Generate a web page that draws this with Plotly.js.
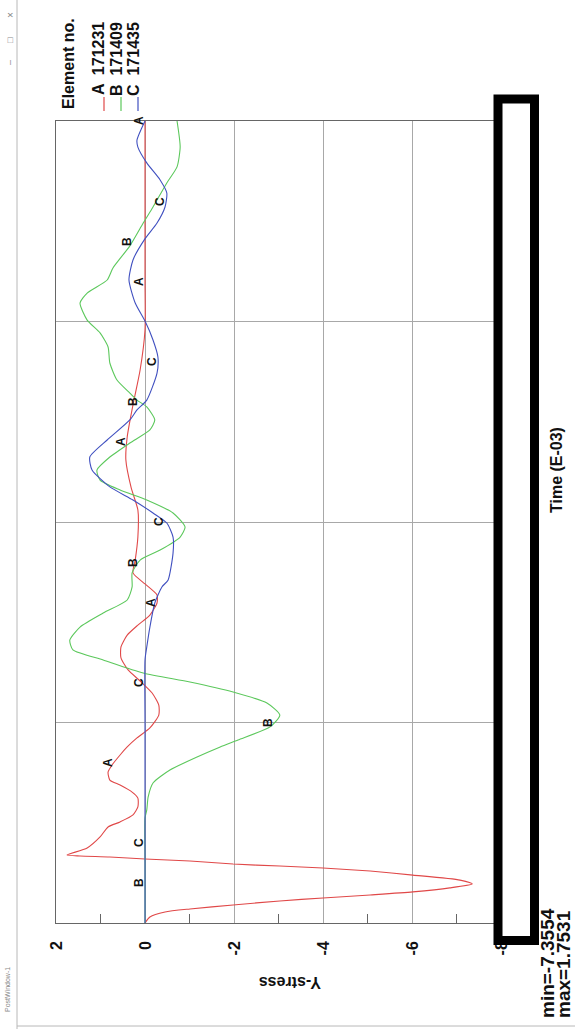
<!DOCTYPE html>
<html>
<head>
<meta charset="utf-8">
<script src="https://cdn.plot.ly/plotly-3.0.1.min.js"></script>
<style>
  html, body { margin: 0; padding: 0; width: 575px; height: 1029px; overflow: hidden; background: #ffffff; }
  #wrap { position: absolute; left: 0; top: 0; width: 1029px; height: 575px;
          transform-origin: 0 0; transform: translate(0px, 1029px) rotate(-90deg); }
  #chart { width: 1029px; height: 575px; }
</style>
</head>
<body>
<div id="wrap"><div id="chart"></div></div>
<script>
// ---- data (time in E-03 units, Y-stress) ----
const seriesNames = ["A", "B", "C"];
const elementIds = ["171231", "171409", "171435"];

const timeA = [0,0.030,0.055,0.070,0.090,0.110,0.125,0.140,0.155,0.175,0.195,0.214,0.239,0.259,0.274,0.284,0.294,0.309,0.319,0.329,0.334,0.339,0.374,0.429,0.479,0.504,0.539,0.579,0.623,0.653,0.688,0.713,0.753,0.788,0.838,0.878,0.923,0.973,1.037,1.087,1.147,1.207,1.262,1.322,1.377,1.436,1.486,1.536,1.596,1.636,1.691,1.746,1.810,1.925,2.060,2.170,2.309,2.424,2.584,2.758,2.958,3.2,3.5,3.8,4.0];
const stressA = [0,-0.11,-0.45,-1.01,-1.98,-3.03,-4.00,-5.06,-6.02,-6.85,-7.3554,-7.08,-6.02,-5.06,-4.00,-3.03,-1.98,-1.01,0,0.79,1.46,1.7531,1.30,1.01,0.83,0.56,0.27,0.16,0.16,0.29,0.56,0.79,0.83,0.74,0.56,0.40,0.18,-0.11,-0.31,-0.31,-0.16,0.11,0.38,0.54,0.54,0.40,0.16,-0.11,-0.27,-0.27,0,0.27,0.22,0.16,0.16,0.31,0.43,0.40,0.27,0.11,0,0,0,0,0];

const timeB = [0,0.3,0.524,0.564,0.628,0.698,0.763,0.828,0.878,0.913,0.978,1.037,1.097,1.152,1.202,1.247,1.312,1.362,1.411,1.476,1.546,1.611,1.676,1.746,1.810,1.860,1.925,1.975,2.045,2.110,2.160,2.209,2.259,2.324,2.394,2.459,2.509,2.574,2.608,2.643,2.708,2.793,2.873,2.943,3.007,3.092,3.142,3.207,3.267,3.377,3.491,3.571,3.691,3.771,3.870,4.0];
const stressB = [0,0,0,-0.04,-0.07,-0.18,-0.56,-1.17,-1.69,-2.09,-2.81,-3.03,-2.74,-1.98,-1.01,0.04,0.94,1.62,1.69,1.46,0.94,0.40,0.29,0.29,0.11,-0.34,-0.79,-0.90,-0.63,-0.04,0.56,1.01,1.08,0.79,0.34,-0.11,-0.22,-0.04,0.18,0.34,0.63,0.79,0.83,1.01,1.30,1.46,1.30,0.85,0.72,0.34,0.04,-0.18,-0.49,-0.72,-0.79,-0.72];

const timeC = [0,0.5,1.0,1.312,1.377,1.476,1.596,1.676,1.711,1.845,1.925,1.995,2.045,2.110,2.175,2.259,2.324,2.409,2.509,2.559,2.608,2.743,2.823,2.908,3.002,3.092,3.207,3.307,3.406,3.491,3.571,3.641,3.706,3.791,3.870,3.905,4.0];
const stressC = [0,0,0,0,-0.04,-0.11,-0.22,-0.38,-0.52,-0.63,-0.63,-0.49,-0.18,0.27,0.79,1.19,1.24,0.85,0.34,0.18,-0.04,-0.27,-0.29,-0.18,0,0.22,0.36,0.27,0.02,-0.27,-0.45,-0.49,-0.34,-0.04,0.16,0.18,0];

// curve letter label times
const labelTimesA = [0.8, 1.6, 2.4, 3.2, 4.0];
const labelTimesB = [0.2, 1.0, 1.8, 2.6, 3.4];
const labelTimesC = [0.4, 1.2, 2.0, 2.8, 3.6];

// stress axis ticks
const stressTickVals = [2, 0, -2, -4, -6, -8];
const stressTickText = ["2", "0", "-2", "-4", "-6", "-8"];
const timeTickVals = [0, 1, 2, 3, 4];

const minText = "min=-7.3554";
const maxText = "max=1.7531";

// ---- styling ----
const colors = ["#e04848", "#5cc85c", "#4050c0"];
const FONT = "Liberation Sans, Arial, sans-serif";

function interp(ts, ss, t) {
  if (t <= ts[0]) return ss[0];
  for (let i = 1; i < ts.length; i++) {
    if (t <= ts[i]) {
      const f = (t - ts[i-1]) / (ts[i] - ts[i-1]);
      return ss[i-1] + f * (ss[i] - ss[i-1]);
    }
  }
  return ss[ss.length - 1];
}

const times = [timeA, timeB, timeC];
const stresses = [stressA, stressB, stressC];
const labelTimes = [labelTimesA, labelTimesB, labelTimesC];

const traces = times.map((t, i) => ({
  x: t, y: stresses[i], type: "scatter", mode: "lines",
  line: { color: colors[i], width: 1.1, shape: "spline", smoothing: 0.6 },
  name: seriesNames[i] + " " + elementIds[i], showlegend: false, hoverinfo: "skip"
}));

const annotations = [];
labelTimes.forEach((lt, i) => {
  lt.forEach(t => {
    annotations.push({
      x: t, y: interp(times[i], stresses[i], t), xref: "x", yref: "y",
      xanchor: "center", yanchor: "middle",
      text: seriesNames[i], showarrow: false, yshift: 6,
      font: { family: FONT, size: 12, color: "#111", weight: 700 }
    });
  });
});

// plot area geometry (unrotated): l=106, r=121, t=56, b=74 in a 1029x575 canvas
const L = 106, T = 56, PW = 802, PH = 445;
const px = u => (u - L) / PW;
const py = v => (T + PH - v) / PH;

function paperText(u, v, text, size, opts) {
  return Object.assign({ xref: "paper", yref: "paper", x: px(u), y: py(v), text: text,
    xanchor: "center", yanchor: "middle", showarrow: false,
    font: { family: FONT, size: size, color: "#111", weight: 700 } }, opts || {});
}

annotations.push(
  paperText(46, 290, "Y-stress", 16, { textangle: -90 }),
  paperText(559, 556, "Time (E-03)", 16),
  paperText(9, 547, minText, 19, { xanchor: "left" }),
  paperText(9, 563, maxText, 19, { xanchor: "left" }),
  paperText(1013, 68, "Element no.", 16, { xanchor: "right" }),
  paperText(15, 8, "PostWindow-1", 7, { xanchor: "left", font: { family: FONT, size: 7, color: "#888" } }),
  paperText(966, 10, "–", 9, { font: { family: FONT, size: 9, color: "#888" } }),
  paperText(989, 10, "□", 9, { font: { family: FONT, size: 9, color: "#888" } }),
  paperText(1014, 10, "×", 10, { font: { family: FONT, size: 10, color: "#888" } })
);

const legendV = [99, 116, 133];
const legendLineV = [104, 121, 138];
const shapes = [];
seriesNames.forEach((n, i) => {
  annotations.push(paperText(1009, legendV[i], n + "  " + elementIds[i], 16, { xanchor: "right" }));
  shapes.push({ type: "line", xref: "paper", yref: "paper", x0: px(918), x1: px(932),
    y0: py(legendLineV[i]), y1: py(legendLineV[i]), line: { color: colors[i], width: 1.2 } });
});

// window frame
shapes.push(
  { type: "line", xref: "paper", yref: "paper", x0: px(0), x1: px(1029), y0: py(17), y1: py(17),
    line: { color: "#b8b8b8", width: 1 } },
  { type: "line", xref: "paper", yref: "paper", x0: px(3), x1: px(3), y0: py(17), y1: py(575),
    line: { color: "#b8b8b8", width: 1 } },
  // redaction box over the time tick labels
  { type: "rect", xref: "paper", yref: "paper", layer: "above",
    x0: px(88.5), x1: px(930), y0: py(534.5), y1: py(498),
    line: { color: "#000", width: 9 }, fillcolor: "#fff" }
);

const layout = {
  width: 1029, height: 575,
  margin: { l: 106, r: 121, t: 56, b: 74, pad: 0 },
  paper_bgcolor: "#fff", plot_bgcolor: "#fff",
  font: { family: FONT, color: "#111" },
  showlegend: false,
  xaxis: {
    range: [0, 4], tickvals: timeTickVals, showticklabels: false, ticks: "",
    showgrid: true, gridcolor: "#a8a8a8", gridwidth: 1, zeroline: false,
    showline: true, linecolor: "#666", linewidth: 1, mirror: true
  },
  yaxis: {
    range: [-8, 2], tickvals: stressTickVals, ticktext: stressTickText, ticks: "",
    tickfont: { family: FONT, size: 16, color: "#111", weight: 700 }, ticklabelstandoff: 14,
    showgrid: true, gridcolor: "#a8a8a8", gridwidth: 1, zeroline: false,
    showline: true, linecolor: "#666", linewidth: 1, mirror: true,
    minor: { tickvals: [1, -1, -3, -5, -7], ticks: "inside", ticklen: 9, tickcolor: "#666", tickwidth: 1, showgrid: false }
  },
  annotations: annotations,
  shapes: shapes
};

Plotly.newPlot("chart", traces, layout, { staticPlot: true, displayModeBar: false });
</script>
</body>
</html>
